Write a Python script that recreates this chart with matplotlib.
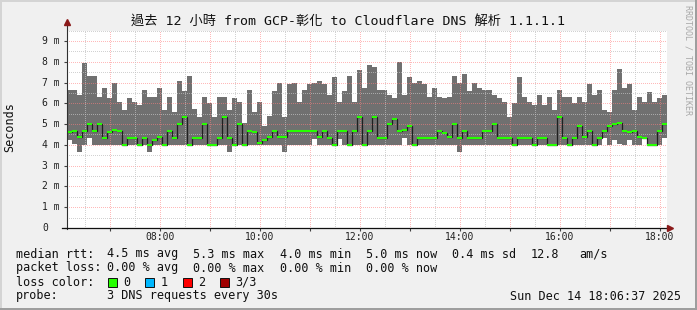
import numpy as np
import matplotlib
matplotlib.use("Agg")
import matplotlib.pyplot as plt
from matplotlib.patches import Rectangle

MONO = ['DejaVu Sans Mono', 'Noto Sans CJK TC']

# time axis: 120 steps of 6 minutes, first step starts at ~06:08
start_hour = 6.14
step_hours = 0.1

# smoke: max / min rtt per step (ms)
rtt_max = [6.63, 6.63, 6.39, 7.93, 7.31, 7.31, 6.30, 6.72, 6.26, 6.98,
           6.06, 5.67, 6.26, 6.05, 5.91, 6.64, 6.29, 6.29, 6.74, 5.67,
           6.30, 5.58, 7.07, 6.57, 7.31, 5.72, 5.34, 6.30, 6.01, 5.34,
           6.30, 6.30, 5.67, 6.25, 6.05, 5.05, 6.63, 5.58, 6.05, 4.90,
           5.38, 6.57, 6.97, 5.35, 6.93, 6.97, 6.05, 6.63, 6.93, 6.97,
           7.07, 6.93, 6.39, 7.26, 6.05, 6.57, 7.31, 6.05, 7.60, 6.73,
           7.84, 7.74, 6.63, 6.63, 6.39, 6.25, 7.98, 6.39, 7.26, 6.97,
           7.07, 6.93, 6.30, 6.73, 6.30, 6.25, 6.30, 7.31, 6.97, 7.40,
           6.59, 6.97, 6.73, 6.63, 6.63, 6.39, 6.25, 6.05, 5.34, 6.00,
           7.26, 6.30, 6.05, 5.91, 6.39, 5.91, 6.30, 5.67, 6.63, 6.30,
           6.30, 6.00, 6.30, 6.05, 6.92, 6.39, 6.63, 5.67, 5.58, 6.63,
           7.64, 6.73, 6.93, 5.67, 6.30, 6.05, 6.55, 6.05, 6.25, 6.39]

rtt_min = [4.23, 4.05, 3.65, 4.00, 4.33, 4.00, 4.00, 4.00, 4.00, 4.00,
           4.00, 4.00, 4.00, 4.00, 4.00, 4.00, 3.65, 4.00, 4.00, 4.00,
           4.00, 4.00, 4.00, 4.00, 4.00, 4.00, 4.00, 4.00, 4.00, 4.00,
           4.00, 4.00, 3.65, 4.00, 4.00, 4.00, 4.00, 4.00, 4.00, 4.00,
           4.00, 4.00, 4.00, 3.65, 4.00, 4.00, 4.00, 4.00, 4.00, 4.28,
           4.00, 4.00, 4.00, 4.00, 4.28, 4.00, 4.00, 4.00, 4.00, 4.00,
           4.00, 4.00, 4.00, 4.00, 4.00, 4.00, 4.00, 4.33, 4.00, 4.00,
           4.00, 4.00, 4.00, 4.00, 4.00, 4.00, 4.00, 4.00, 3.65, 4.00,
           4.00, 4.00, 4.00, 4.00, 4.00, 4.00, 4.00, 4.00, 4.00, 4.00,
           4.00, 4.00, 4.00, 4.00, 4.00, 4.00, 4.00, 4.00, 4.00, 4.00,
           4.00, 4.00, 4.00, 4.00, 4.00, 4.00, 4.00, 4.33, 4.00, 4.23,
           4.05, 4.00, 4.23, 4.00, 4.00, 4.28, 4.00, 4.00, 4.00, 4.33]

rtt_median = [4.60, 4.66, 4.40, 4.66, 5.00, 4.66, 5.00, 4.34, 4.60, 4.72,
              4.66, 4.00, 4.34, 4.34, 4.00, 4.34, 4.00, 4.23, 4.40, 4.00,
              4.66, 4.34, 5.00, 5.34, 4.00, 4.34, 4.34, 5.00, 4.00, 4.00,
              4.34, 5.34, 4.34, 4.00, 5.00, 4.00, 4.66, 4.60, 4.08, 4.23,
              4.40, 4.66, 4.40, 4.40, 4.66, 4.66, 4.66, 4.66, 4.66, 4.66,
              4.40, 4.66, 4.34, 4.00, 4.66, 4.66, 4.00, 4.66, 5.34, 4.00,
              4.66, 5.34, 4.34, 4.34, 5.00, 5.24, 4.66, 4.72, 4.92, 4.00,
              4.34, 4.34, 4.34, 4.34, 4.66, 4.55, 4.40, 5.00, 4.34, 4.66,
              4.34, 4.34, 4.34, 4.66, 4.66, 5.00, 4.34, 4.34, 4.34, 4.00,
              4.34, 4.34, 4.34, 4.00, 4.34, 4.34, 4.00, 4.00, 5.34, 4.34,
              4.00, 4.34, 4.92, 4.40, 4.66, 4.00, 4.34, 4.66, 4.92, 5.00,
              5.05, 4.66, 4.60, 4.66, 4.40, 4.34, 4.00, 4.00, 4.66, 5.00]

y_ticks = [0, 1, 2, 3, 4, 5, 6, 7, 8, 9]
y_labels = ['0', '1 m', '2 m', '3 m', '4 m', '5 m', '6 m', '7 m', '8 m', '9 m']
x_ticks = [8, 10, 12, 14, 16, 18]
x_labels = ['08:00', '10:00', '12:00', '14:00', '16:00', '18:00']

title = '過去 12 小時 from GCP-彰化 to Cloudflare DNS 解析 1.1.1.1'
legend_rtt = ['4.5 ms avg', '5.3 ms max', '4.0 ms min', '5.0 ms now', '0.4 ms sd']
legend_loss = ['0.00 % avg', '0.00 % max', '0.00 % min', '0.00 % now']
loss_names = ['0', '1', '2', '3/3']
loss_colors = ['#26ff00', '#00b8ff', '#ff0000', '#a00000']

W, H = 697, 310
fig = plt.figure(figsize=(W / 100, H / 100), dpi=100, facecolor='#f0f0f0')

# plot area
ax = fig.add_axes([67 / W, (H - 228) / H, 600 / W, (228 - 30.6) / H])
ax.set_facecolor('white')
edges = start_hour + step_hours * np.arange(len(rtt_max) + 1)
ax.set_xlim(edges[0], edges[-1])
ax.set_ylim(0, 9.5)

ax.stairs(rtt_max, edges, baseline=rtt_min, fill=True, color='#707070', lw=0, zorder=2)

# dotted grid, drawn over the smoke like rrdtool does
dot = (0, (1, 2))
grid_minor = dict(color='#c0c0c0', alpha=0.7, lw=0.72, ls=dot, zorder=3, antialiased=False)
grid_major = dict(color='#ff8080', alpha=0.55, lw=0.72, ls=dot, zorder=3, antialiased=False)
for v in np.arange(0.5, 9.6, 1.0):
    ax.axhline(v, **grid_minor)
for v in y_ticks[1:]:
    ax.axhline(v, **grid_major)
for h in np.arange(6.5, 18.1, 1.0):
    ax.axvline(h, **grid_minor)
for h in range(7, 19):
    ax.axvline(h, **grid_major)

# median line: dark step line with green segments on top
ax.stairs(rtt_median, edges, baseline=None, color='#202020', lw=0.9, zorder=4)
ax.hlines(rtt_median, edges[:-1], edges[1:], color='#26ff00', lw=1.5, zorder=5)

for s in ax.spines.values():
    s.set_visible(False)
ax.set_xticks(range(7, 19))
ax.set_yticks(y_ticks)
ax.set_xticklabels([])
ax.set_yticklabels([])
ax.tick_params(length=2, width=0.8, color='#404040', direction='out')

for v, lab in zip(y_ticks, y_labels):
    ax.text(-25 / 600, v, lab, transform=ax.get_yaxis_transform(), ha='left', va='center',
            fontsize=7, family=MONO, color='#202020')
for h, lab in zip(x_ticks, x_labels):
    ax.text(h, -9.5 / 197.4, lab, transform=ax.get_xaxis_transform(), ha='center', va='center',
            fontsize=7, family=MONO, color='#202020')

# overlay in pixel coordinates for axes arrows, texts and frame
ov = fig.add_axes([0, 0, 1, 1])
ov.set_xlim(0, W)
ov.set_ylim(H, 0)
ov.axis('off')
ov.patch.set_alpha(0)

ov.plot([67, 67], [229, 24], color='#303030', lw=0.8)
ov.plot([62, 669], [228, 228], color='#101010', lw=0.9)
ov.plot(67, 22, marker='^', ms=4.5, color='#8b1a1a', mec='#8b1a1a')
ov.plot(670, 228, marker='>', ms=4.5, color='#8b1a1a', mec='#8b1a1a')

ov.text(348, 21, title, ha='center', va='center', fontsize=9.5, family=MONO, color='#101010')
ov.text(10, 127, 'Seconds', rotation=90, ha='center', va='center', fontsize=8.5,
        family=MONO, color='#101010')
ov.text(688, 60, 'RRDTOOL / TOBI OETIKER', rotation=270, ha='center', va='center',
        fontsize=6, family=MONO, color='#a8a8a8')

leg = dict(ha='left', va='center', fontsize=8.5, family=MONO, color='#101010')
ov.text(16, 254, 'median rtt:', **leg)
for x, s in zip([107, 193, 280, 366, 452], legend_rtt):
    ov.text(x, 254, s, **leg)
ov.text(531, 254, '12.8', **leg)
ov.text(579, 254, 'am/s', **leg)

ov.text(16, 268, 'packet loss:', **leg)
for x, s in zip([107, 193, 280, 366], legend_loss):
    ov.text(x, 268, s, **leg)

ov.text(16, 282, 'loss color:', **leg)
for x, name, c in zip([108, 145, 182.5, 219.5], loss_names, loss_colors):
    ov.add_patch(Rectangle((x, 278), 9, 9, facecolor=c, edgecolor='#101010', lw=0.7))
    ov.text(x + 15.5, 282, name, **leg)

ov.text(16, 296, 'probe:', **leg)
ov.text(107, 296, '3 DNS requests every 30s', **leg)
ov.text(681, 296, 'Sun Dec 14 18:06:37 2025', **dict(leg, ha='right'))

# rrdtool-like shaded frame
ov.add_patch(Rectangle((0, 0), W, 2, color='#d4d4d4', lw=0))
ov.add_patch(Rectangle((0, 0), 2, H, color='#d4d4d4', lw=0))
ov.add_patch(Rectangle((0, H - 2), W, 2, color='#9e9e9e', lw=0))
ov.add_patch(Rectangle((W - 2, 0), 2, H, color='#9e9e9e', lw=0))

fig.savefig('out.png', dpi=100, facecolor=fig.get_facecolor())
